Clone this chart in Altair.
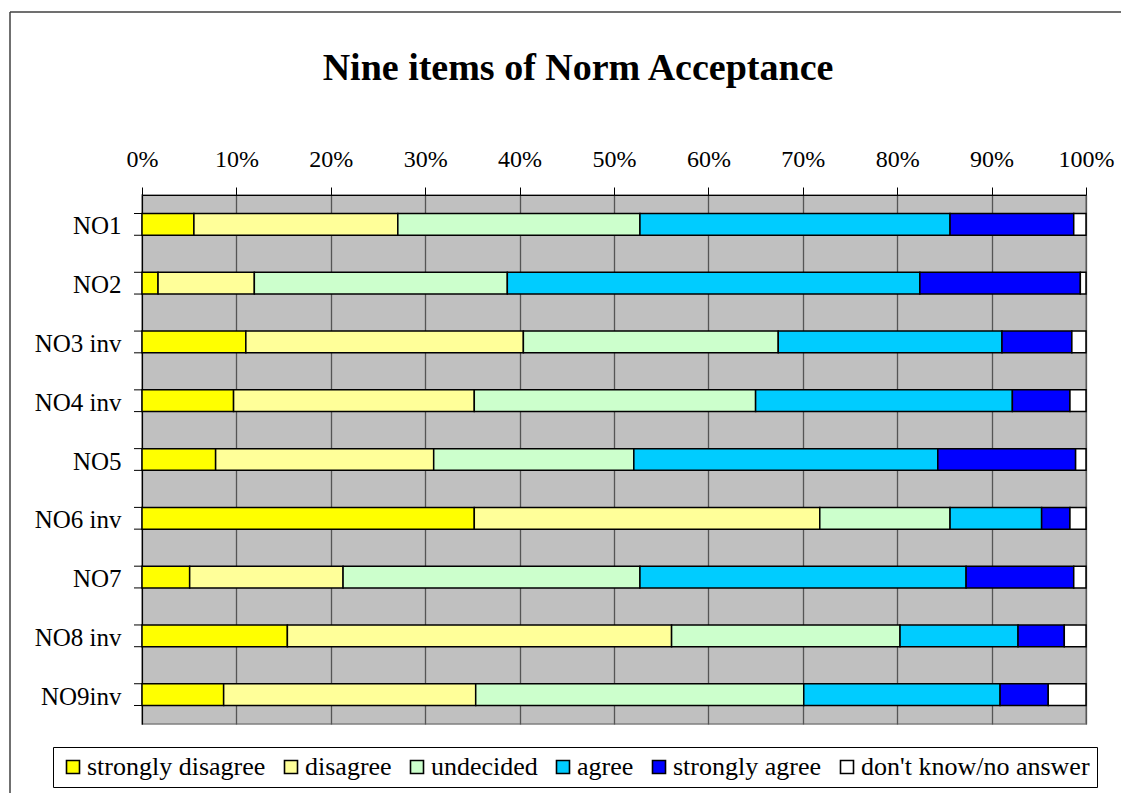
import altair as alt
import pandas as pd

items = ["NO1", "NO2", "NO3 inv", "NO4 inv", "NO5", "NO6 inv", "NO7", "NO8 inv", "NO9inv"]
categories = ["strongly disagree", "disagree", "undecided", "agree", "strongly agree", "don't know/no answer"]
colors = ["#FFFF00", "#FFFF99", "#CCFFCC", "#00CCFF", "#0000FF", "#FFFFFF"]

strongly_disagree = [5.5, 1.7, 11.0, 9.7, 7.8, 35.2, 5.05, 15.4, 8.65]
disagree = [21.6, 10.2, 29.4, 25.5, 23.1, 36.6, 16.25, 40.7, 26.7]
undecided = [25.65, 26.8, 27.0, 29.8, 21.2, 13.8, 31.45, 24.2, 34.75]
agree = [32.85, 43.7, 23.7, 27.2, 32.2, 9.7, 34.55, 12.5, 20.8]
strongly_agree = [13.1, 17.0, 7.4, 6.1, 14.6, 3.0, 11.4, 4.9, 5.1]
dont_know = [1.3, 0.6, 1.5, 1.7, 1.1, 1.7, 1.3, 2.3, 4.0]

series = [strongly_disagree, disagree, undecided, agree, strongly_agree, dont_know]
rows = []
for k, (cat, vals) in enumerate(zip(categories, series)):
    for item, v in zip(items, vals):
        rows.append({"item": item, "category": cat, "value": v, "k": k})
df = pd.DataFrame(rows)
items_df = pd.DataFrame({"item": items})
one = pd.DataFrame({"a": [0]})

FONT = "Liberation Serif"

y_axis = alt.Axis(title=None, ticks=False, tickSize=0, domainColor="black", domainWidth=1,
                  labelFont=FONT, labelFontSize=25, labelColor="black", labelPadding=21,
                  labelOffset=2)
y_scale = alt.Scale(domain=items, paddingInner=0.63, paddingOuter=0.315)

bars = alt.Chart(df).mark_bar(stroke="black", strokeWidth=1.5).encode(
    x=alt.X("value:Q", stack="normalize",
            scale=alt.Scale(domain=[0, 1], nice=False),
            axis=alt.Axis(orient="top", values=[i / 10 for i in range(11)], format=".0%",
                          title=None, grid=True, gridColor="#555555", gridWidth=1.3,
                          tickColor="black", tickSize=8, domainColor="black", domainWidth=1,
                          labelFont=FONT, labelFontSize=24, labelColor="black",
                          labelPadding=21, labelBaseline="alphabetic",
                          labelFlush=False, labelOverlap=False)),
    y=alt.Y("item:N", scale=y_scale, axis=y_axis, sort=items),
    color=alt.Color("category:N", scale=alt.Scale(domain=categories, range=colors),
                    legend=alt.Legend(title=None, orient="none", legendX=-89, legendY=552,
                                      direction="horizontal", columns=6, symbolType="square",
                                      symbolSize=169, symbolStrokeColor="black",
                                      symbolStrokeWidth=1.6, symbolOpacity=1,
                                      labelFont=FONT, labelFontSize=26, labelColor="black",
                                      labelOffset=1, columnPadding=12, padding=7,
                                      strokeColor="black", fillColor="white", labelLimit=0)),
    order=alt.Order("k:Q"),
)

ticks_top = alt.Chart(items_df).mark_rule(color="black", strokeWidth=1).encode(
    y=alt.Y("item:N", bandPosition=0, scale=y_scale, axis=y_axis, sort=items),
    x=alt.value(-8), x2=alt.value(0),
)
ticks_bot = alt.Chart(items_df).mark_rule(color="black", strokeWidth=1).encode(
    y=alt.Y("item:N", bandPosition=1, scale=y_scale, axis=y_axis, sort=items),
    x=alt.value(-8), x2=alt.value(0),
)

frame_top = alt.Chart(one).mark_rule(color="#404040", strokeWidth=1.5).encode(
    x=alt.value(-132), x2=alt.value(990), y=alt.value(-183))
frame_left = alt.Chart(one).mark_rule(color="#404040", strokeWidth=1.5).encode(
    x=alt.value(-132), y=alt.value(-183), y2=alt.value(620))

title = alt.Chart(one).mark_text(text="Nine items of Norm Acceptance", font=FONT,
                                 fontSize=38, fontWeight="bold", align="center",
                                 baseline="alphabetic", color="black").encode(
    x=alt.value(436), y=alt.value(-115))

chart = alt.layer(bars, ticks_top, ticks_bot, frame_top, frame_left, title).properties(
    width=944, height=529,
    padding={"left": 134, "top": 187, "right": 35, "bottom": 69},
    autosize="none", background="white",
).configure(font=FONT).configure_axis(labelFont=FONT).configure_legend(
    labelFont=FONT
).configure_view(fill="#C0C0C0", stroke="#808080", strokeWidth=1.5)

chart.save("out.html", embed_options={"renderer": "svg", "actions": False})
